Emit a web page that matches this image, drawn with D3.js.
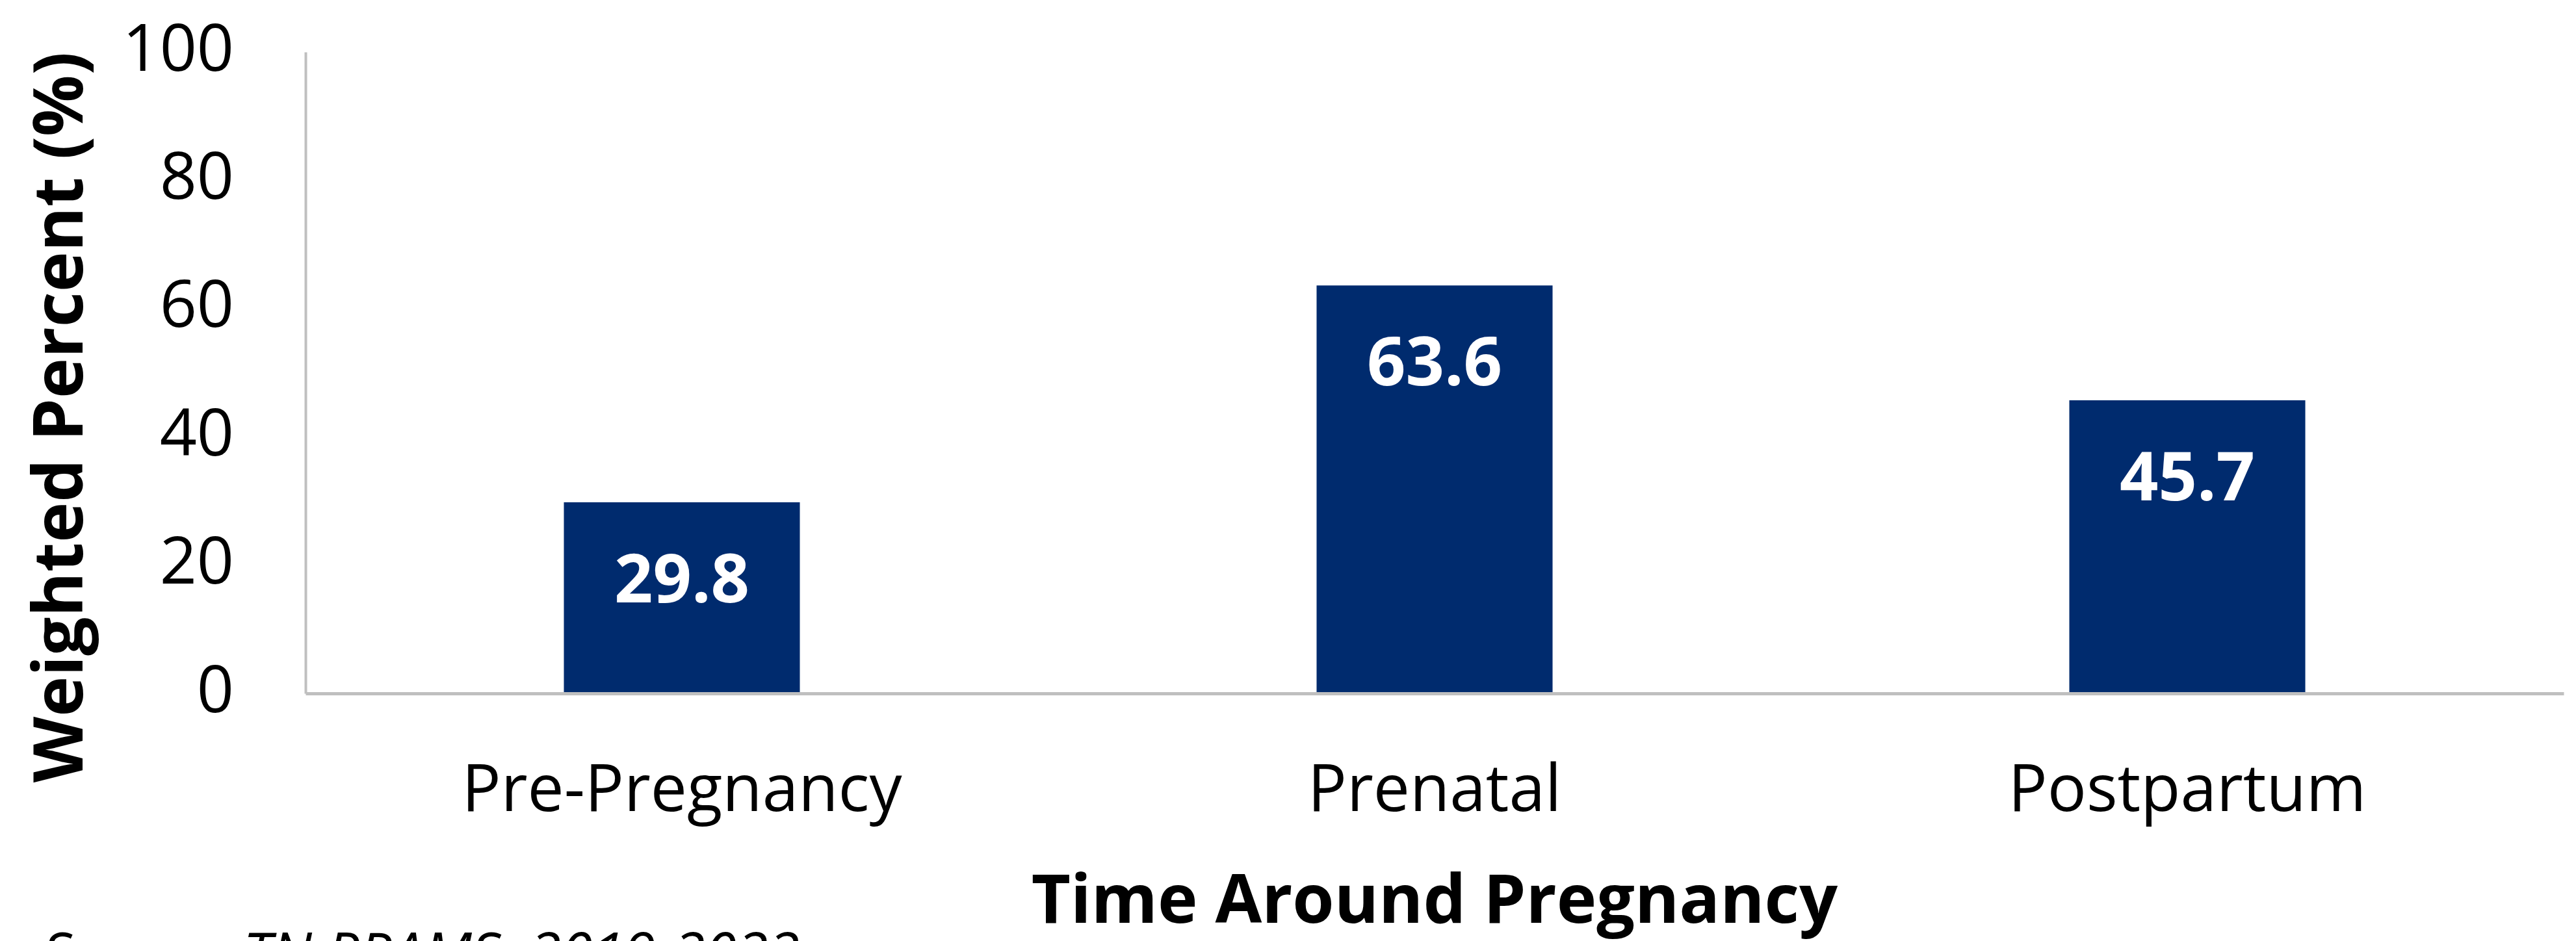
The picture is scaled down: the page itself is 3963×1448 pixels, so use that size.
<!DOCTYPE html>
<html>
<head>
<meta charset="utf-8">
<script src="https://cdn.jsdelivr.net/npm/d3@7"></script>
<style>
  html, body { margin: 0; padding: 0; background: #fff; }
  svg { display: block; }
  text { font-family: "Open Sans", sans-serif; }
</style>
</head>
<body>
<svg id="chart" width="3963" height="1448"></svg>
<script>
const categories = ["Pre-Pregnancy", "Prenatal", "Postpartum"];
const values = [29.8, 63.6, 45.7];
const yTicks = [0, 20, 40, 60, 80, 100];
const yTitle = "Weighted Percent (%)";
const xTitle = "Time Around Pregnancy";
const sourceNote = "Source: TN PRAMS, 2019-2022";

const svg = d3.select("#chart");
const plotLeft = 470, plotRight = 3944, plotTop = 80, plotBottom = 1067;
const barColor = "#002B6E";
const axisColor = "#BFBFBF";

const x = d3.scaleBand().domain(categories).range([plotLeft, plotRight]).padding(0);
const y = d3.scaleLinear().domain([0, 100]).range([plotBottom, plotTop]);
const barFrac = 0.3135;
const bw = x.bandwidth() * barFrac;

// bars
svg.append("g").selectAll("rect").data(values).join("rect")
  .attr("x", (d, i) => x(categories[i]) + (x.bandwidth() - bw) / 2)
  .attr("y", d => y(d))
  .attr("width", bw)
  .attr("height", d => y(0) - y(d))
  .attr("fill", barColor);

// y axis
const yAxis = svg.append("g").attr("transform", `translate(${plotLeft},0)`)
  .call(d3.axisLeft(y).tickValues(yTicks).tickSize(0).tickPadding(110).tickFormat(d3.format("d")));
yAxis.select(".domain").attr("stroke", axisColor).attr("stroke-width", 4);
yAxis.selectAll("text").attr("font-size", 100).attr("fill", "#000")
  .attr("font-family", "'Open Sans', sans-serif").attr("dy", "0.28em");

// x axis
const xAxis = svg.append("g").attr("transform", `translate(0,${plotBottom})`)
  .call(d3.axisBottom(x).tickSize(0).tickSizeOuter(0).tickPadding(110));
xAxis.select(".domain").attr("stroke", axisColor).attr("stroke-width", 5);
xAxis.selectAll("text").attr("font-size", 100).attr("fill", "#000")
  .attr("font-family", "'Open Sans', sans-serif");

// value labels
svg.append("g").selectAll("text").data(values).join("text")
  .attr("x", (d, i) => x(categories[i]) + x.bandwidth() / 2)
  .attr("y", d => y(d) + 154)
  .attr("text-anchor", "middle")
  .attr("font-size", 104)
  .attr("font-weight", 700)
  .attr("fill", "#fff")
  .text(d => d.toFixed(1));

// axis titles
svg.append("text")
  .attr("transform", `translate(127,642) rotate(-90)`)
  .attr("text-anchor", "middle")
  .attr("font-size", 105)
  .attr("font-weight", 700)
  .attr("fill", "#000")
  .text(yTitle);

svg.append("text")
  .attr("x", (plotLeft + plotRight) / 2)
  .attr("y", 1420)
  .attr("text-anchor", "middle")
  .attr("font-size", 104)
  .attr("font-weight", 700)
  .attr("fill", "#000")
  .text(xTitle);

svg.append("text")
  .attr("x", 66)
  .attr("y", 1498)
  .attr("font-size", 88)
  .attr("font-style", "italic")
  .attr("fill", "#000")
  .text(sourceNote);
</script>
</body>
</html>
